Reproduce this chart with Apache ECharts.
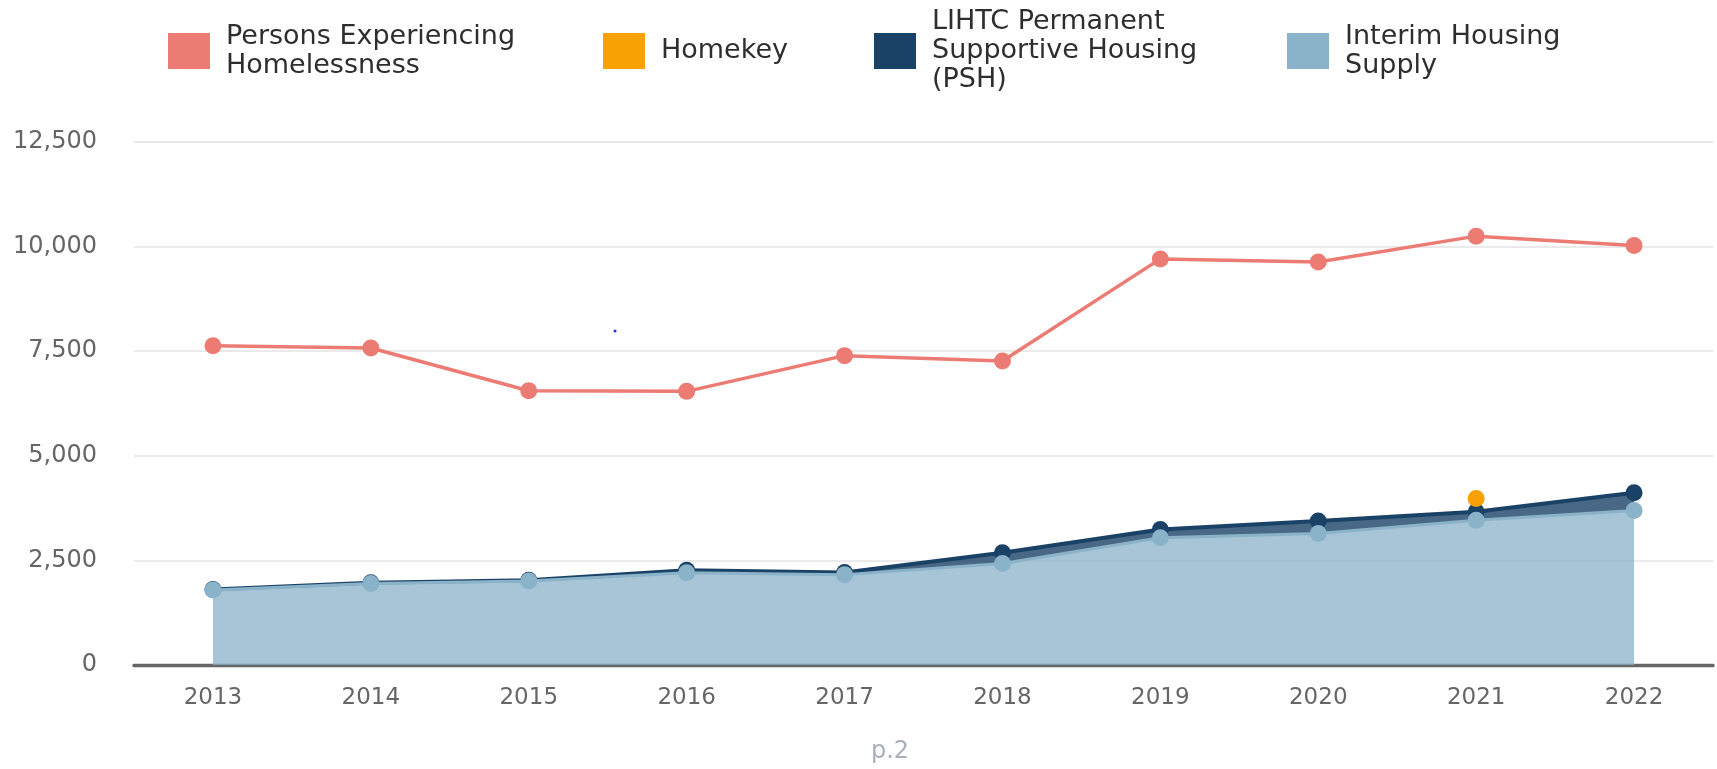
<!DOCTYPE html>
<html><head><meta charset="utf-8">
<script src="https://cdn.jsdelivr.net/npm/echarts@6/dist/echarts.min.js"></script>
<style>html,body{margin:0;padding:0;background:#fff}#c{width:1717px;height:769px}</style>
</head><body><div id="c"></div>
<script>
// ---- data ----
const years = ['2013','2014','2015','2016','2017','2018','2019','2020','2021','2022'];
const homeless = [7631, 7575, 6556, 6540, 7394, 7265, 9706, 9630, 10250, 10028];
const interim  = [1795, 1950, 2005, 2205, 2160, 2425, 3040, 3145, 3462, 3690];
const psh      = [10, 15, 20, 60, 50, 260, 200, 295, 200, 425];
const homekey  = [null, null, null, null, null, null, null, null, 320, null];
const yMin = 0, yMax = 12500, yStep = 2500;

const N_PERSONS = 'Persons Experiencing\nHomelessness';
const N_HOMEKEY = 'Homekey';
const N_PSH = 'LIHTC Permanent\nSupportive Housing\n(PSH)';
const N_INTERIM = 'Interim Housing\nSupply';

const C_RED = '#ec7b73', C_ORANGE = '#f7a104', C_NAVY = '#1a4266', C_LBLUE = '#8ab2c8';
const FONT = 'DejaVu Sans';

function legendAt(name, color, left, top) {
  return {
    left: left, top: top, orient: 'horizontal', padding: 0,
    itemWidth: 42, itemHeight: 36, itemGap: 0, icon: 'rect', selectedMode: false,
    data: [{ name: name, icon: 'rect', itemStyle: { color: color, borderWidth: 0 } }],
    textStyle: { fontFamily: FONT, fontSize: 27, lineHeight: 29, color: '#2e2e2e', padding: [0, 0, 0, 11] }
  };
}

const chart = echarts.init(document.getElementById('c'), null, { renderer: 'canvas' });
chart.setOption({
  animation: false,
  backgroundColor: '#fff',
  legend: [
    legendAt(N_PERSONS, C_RED, 168, 22),
    legendAt(N_HOMEKEY, C_ORANGE, 603, 33),
    legendAt(N_PSH, C_NAVY, 874, 7.5),
    legendAt(N_INTERIM, C_LBLUE, 1287, 22)
  ],
  grid: { left: 134, right: 4, top: 142, bottom: 104, containLabel: false },
  xAxis: {
    type: 'category', data: years, boundaryGap: true,
    axisLine: { show: true, lineStyle: { color: '#666', width: 3.3 } },
    axisTick: { show: false },
    axisLabel: { fontFamily: FONT, fontSize: 23, color: '#666', margin: 22 }
  },
  yAxis: {
    type: 'value', min: yMin, max: yMax, interval: yStep,
    axisLine: { show: false }, axisTick: { show: false },
    splitLine: { lineStyle: { color: '#e3e3e3', width: 1.5 } },
    axisLabel: {
      fontFamily: FONT, fontSize: 24, color: '#666', margin: 37,
      formatter: v => v.toLocaleString('en-US')
    }
  },
  series: [
    {
      name: N_INTERIM, type: 'line', stack: 'housing', data: interim, z: 4,
      symbol: 'circle', symbolSize: 17, showSymbol: true,
      lineStyle: { color: C_LBLUE, width: 3 }, itemStyle: { color: C_LBLUE },
      areaStyle: { color: C_LBLUE, opacity: 0.75 }
    },
    {
      name: N_PSH, type: 'line', stack: 'housing', data: psh, z: 3,
      symbol: 'circle', symbolSize: 17, showSymbol: true,
      lineStyle: { color: C_NAVY, width: 4 }, itemStyle: { color: C_NAVY },
      areaStyle: { color: C_NAVY, opacity: 0.8 }
    },
    {
      name: N_HOMEKEY, type: 'line', stack: 'housing', data: homekey, z: 5,
      symbol: 'circle', symbolSize: 17, showSymbol: true,
      lineStyle: { color: C_ORANGE, width: 3 }, itemStyle: { color: C_ORANGE }
    },
    {
      name: N_PERSONS, type: 'line', data: homeless, z: 6,
      symbol: 'circle', symbolSize: 17, showSymbol: true,
      lineStyle: { color: C_RED, width: 3.5 }, itemStyle: { color: C_RED }
    }
  ],
  graphic: [
    { type: 'text', left: 871, top: 740, style: { text: 'p.2', font: '24px "DejaVu Sans"', fill: '#aab0b8' } },
    { type: 'circle', shape: { cx: 615, cy: 331, r: 1.5 }, style: { fill: '#2030ff' } }
  ]
});
</script></body></html>
